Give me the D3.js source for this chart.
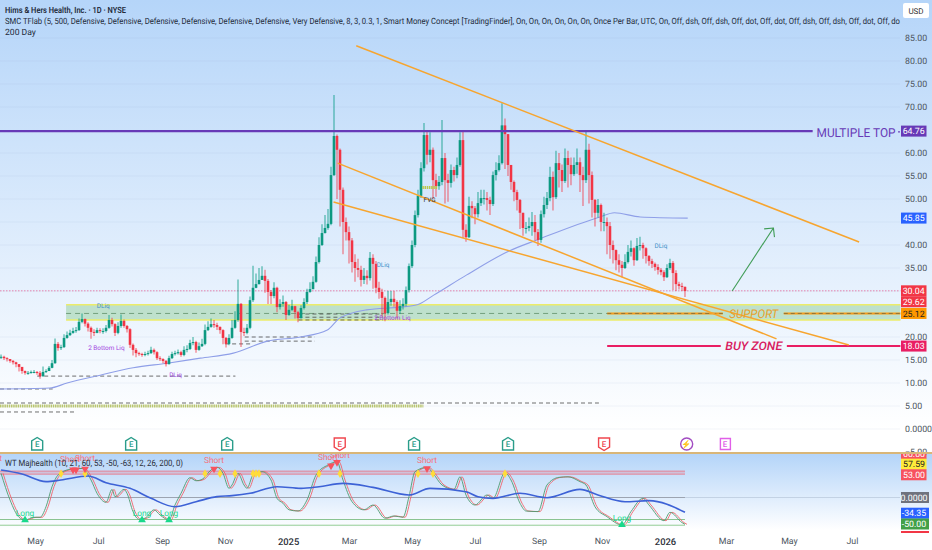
<!DOCTYPE html>
<html lang='en'>

<head>
   <meta charset='UTF-8'>
   <title>HIMS 1D</title>
   <script src="https://cdnjs.cloudflare.com/ajax/libs/d3/7.8.5/d3.min.js"></script>
   <style>
      body { margin: 0; background: #fff; overflow: hidden; }
      svg { display: block; }
      text { font-family: Roboto, 'Noto Sans', sans-serif; text-rendering: geometricPrecision; }
      .axis path, .axis line { display: none; }
      .axis text { font-size: 8.8px; fill: #4d5560; font-family: Roboto, 'Noto Sans', sans-serif; }
   </style>
</head>

<body>
   <svg id='chart' width='932' height='550'></svg>

   <script>
      'use strict'

      // one candle per ~2.9 calendar days
      const closes = [
         15.7, 15.4, 15.2, 14.8, 14.5, 14.1, 13.5, 12.6, 12.2, 12.2,
         12.4, 12.4, 12.2, 11.5, 12.4, 12.6, 13.3, 14.3, 18.5, 17.6,
         17.8, 19.8, 20.4, 20.9, 21.3, 21.5, 23.3, 23.9, 22.9, 22,
         21.1, 20.9, 21.5, 21.3, 21.3, 22, 23.7, 22.8, 20.9, 22.4,
         23.5, 22.4, 21.7, 18.3, 17.2, 16.5, 16.3, 16.1, 16.3, 16.5,
         17.2, 16.7, 15.4, 15.2, 14.8, 14.1, 15.4, 16.3, 16.5, 16.7,
         16.1, 17.2, 17.4, 18.7, 18.9, 17.2, 18, 18.5, 21.5, 22.2,
         22.8, 22.6, 22.2, 21.5, 19.8, 18.5, 19.8, 22, 23.7, 27.2,
         21.1, 20.9, 22, 28, 30.7, 31.5, 32.4, 33.3, 32.2, 29.8,
         28.9, 30.7, 26.5, 27.2, 27.6, 24.8, 25.9, 26.7, 25.4, 24.1,
         26.3, 27.6, 29.8, 30.4, 32, 36.3, 40, 42.6, 43.7, 44.6,
         55.2, 63.7, 60.7, 52, 45, 42.8, 41, 36.3, 35, 34.6,
         32.4, 33.3, 32.8, 37.2, 35.9, 30.7, 29.8, 28.5, 25.2, 27.6,
         28.3, 27.6, 25.7, 26.7, 27.2, 30.2, 35.4, 40, 46.5, 50.7,
         56.7, 63.9, 59.6, 60.7, 54.1, 52.8, 53.7, 58.9, 54.1, 53.5,
         56.3, 55.2, 57.4, 62.8, 43.3, 41.7, 48.5, 48, 46.7, 49.1,
         50.2, 50.2, 49.8, 48.9, 55.2, 56.3, 57.8, 66, 64.1, 57.4,
         53.7, 51.5, 49.8, 47, 43.7, 43.7, 44.1, 45, 42.8, 41.1,
         46.7, 48.7, 50.2, 54.8, 50.4, 57.8, 56.3, 53.9, 58.9, 57.4,
         55.4, 57.4, 58, 55.2, 54.1, 60.7, 55.2, 49.8, 47, 48.7,
         45, 45, 44.1, 40, 38.9, 36.7, 35.7, 35, 36.3, 38.5,
         39.3, 36.7, 39.8, 40, 39.3, 37.6, 36.5, 35.9, 35.2, 34.6,
         34.1, 33, 35, 36.1, 33.9, 31.5, 31.1, 30.9, 30
      ]

      const highs = [
         16.2, 15.9, 15.6, 15.2, 15, 14.6, 14, 13.4, 12.7, 12.6,
         12.7, 12.8, 12.6, 12.6, 13.6, 13, 13.7, 15, 19.7, 18.9,
         18.3, 20.6, 21.2, 21.6, 22, 22.2, 24, 25.1, 24, 23.2,
         22.3, 21.7, 22, 21.9, 21.9, 22.6, 24.8, 24.2, 23, 23.2,
         24.9, 23.8, 22.6, 21.9, 18.6, 17.6, 16.8, 16.6, 16.8, 17,
         17.9, 17.5, 16.9, 15.8, 15.4, 15, 15.9, 16.8, 17, 17.3,
         17, 18, 18.2, 19.4, 20, 19.2, 18.8, 19.6, 22.7, 23.4,
         24, 23.7, 23.1, 22.3, 21.7, 20, 20.6, 23.7, 25.6, 32.5,
         27.4, 22, 22.8, 28.8, 35.5, 33.8, 35, 35.4, 34.6, 32.6,
         30.2, 31.9, 30.9, 28.2, 29, 27.8, 27, 28.1, 26.8, 25.7,
         26.9, 28.4, 30.5, 31.9, 33.2, 37.5, 41.7, 44.5, 46.5, 47.8,
         57, 72.6, 64, 61, 52.5, 46, 44, 41.5, 38, 37,
         35.5, 35, 34.5, 38.5, 38, 36.5, 32, 30.5, 28.8, 30,
         30, 30, 28, 28, 28.4, 31, 36, 41, 47.5, 52,
         58, 66.5, 65, 64.5, 61.2, 55.5, 55, 67.2, 60, 55.5,
         57.5, 57, 59, 64.5, 65, 44.5, 50.5, 49.5, 48.5, 51.5,
         52, 52, 51.5, 50.5, 56, 58, 59.5, 70.8, 67.5, 64,
         57, 54, 52, 50, 47, 45, 46, 47.2, 46.5, 43.5,
         47.5, 50.5, 51.5, 57, 56, 60.5, 60, 57.5, 61, 60.5,
         59, 59, 61, 59, 57, 65, 62, 56, 50, 50,
         49, 47, 46, 45, 41, 39, 38, 36.5, 38, 40,
         41, 39.5, 41.5, 41.8, 40.5, 39.5, 37.8, 37, 36.2, 35.8,
         35, 34.5, 35.8, 37, 36.5, 34.5, 32, 31.8, 31
      ]

      const lows = [
         15.2, 15, 14.7, 14.4, 14, 13.4, 12.5, 12, 11.8, 11.8,
         12, 12.1, 11.8, 10.9, 11.3, 12.2, 12.6, 13.2, 14.2, 17,
         17.2, 17.6, 19.6, 20.2, 20.7, 20.9, 21.3, 23, 22.3, 21.2,
         19.6, 20.2, 20.8, 20.8, 20.7, 21, 21.8, 22.3, 20.2, 20.6,
         22, 22, 21, 17.6, 16, 15.6, 15.9, 15.7, 15.8, 16,
         16.3, 16.2, 15, 14.8, 14.3, 13.6, 14, 15.2, 16, 16.2,
         15.7, 15.8, 16.7, 17.2, 18.2, 16.6, 17, 17.8, 18.2, 21.3,
         22, 22, 21.5, 20.7, 18.4, 17.7, 18.2, 19.6, 21.8, 23.3,
         17.8, 20.2, 20.6, 21.7, 27.6, 30.6, 31.4, 32.5, 29.6, 27.2,
         27.2, 28.4, 25.4, 26, 26.6, 23.7, 24.6, 25.6, 24, 23.2,
         24, 26, 27.2, 29.6, 30.4, 31.8, 36, 39.8, 42.5, 43.3,
         44.3, 55, 50, 44, 38, 41, 36, 34, 32, 33,
         31, 31.5, 31.4, 32.3, 30.5, 29.5, 28.3, 24.4, 23.4, 24.9,
         26.8, 26.6, 24, 25, 26, 26.7, 29.7, 35, 39.5, 46,
         50.2, 56, 57.5, 58, 50, 50.5, 52, 53, 49, 49.4,
         52.5, 53.8, 54.5, 57, 41.5, 40.7, 41.5, 45.8, 44.5, 46,
         48.5, 48.8, 47.5, 46.5, 48.5, 54, 56, 57.5, 56.5, 55,
         52, 49.5, 47.5, 43.5, 42, 42.5, 43, 42, 41, 39.8,
         40.5, 46, 47.8, 49.5, 47.5, 50, 52.5, 51.5, 53.5, 52.5,
         53, 55, 55.5, 51.5, 48.5, 53.5, 49, 46, 44, 46,
         43, 43, 38, 37, 36, 34.5, 34, 33, 34.8, 36,
         37.5, 35.5, 36.5, 38.8, 37, 36, 35.5, 35, 34.4, 33.6,
         33.4, 32.2, 32.8, 34.6, 30.2, 30, 30.3, 30, 28.7
      ]

      const maDates = ['2024-03-28', '2024-05-15', '2024-06-01', '2024-07-03', '2024-08-04', '2024-09-06', '2024-10-08', '2024-11-09', '2024-12-12', '2025-01-13', '2025-02-08', '2025-02-20', '2025-03-18', '2025-04-20', '2025-05-06', '2025-05-22', '2025-06-23', '2025-08-03', '2025-08-30', '2025-10-30', '2025-11-13', '2025-12-08', '2026-01-23']
      const maValues = [8.7, 8.9, 10, 11.7, 13.3, 14.3, 15.4, 16.5, 19.1, 20, 21.5, 24.1, 25.9, 26.5, 27, 29.1, 33.5, 38.7, 41.1, 46.1, 47, 46.1, 45.85]

      const priceTicks = [85, 80, 75, 70, 60, 55, 50, 40, 35, 20, 15, 10, 5, 0, -5]
      const gridPrices = [85, 80, 75, 70, 60, 55, 50, 45, 40, 35, 30, 20, 15, 10, 5, 0]

      const monthDates = ['2024-05-01', '2024-07-01', '2024-09-01', '2024-11-01', '2025-01-01', '2025-03-01', '2025-05-01', '2025-07-01', '2025-09-01', '2025-11-01', '2026-01-01', '2026-03-01', '2026-05-01', '2026-07-01']
      const monthLabels = ['May', 'Jul', 'Sep', 'Nov', '2025', 'Mar', 'May', 'Jul', 'Sep', 'Nov', '2026', 'Mar', 'May', 'Jul']

      // trend lines: start date, start price, end date, end price
      const trendLines = [
         ['2025-03-08', 83.3, '2026-07-08', 40.65],
         ['2025-02-18', 57.8, '2026-04-19', 19.6],
         ['2025-02-14', 49.35, '2026-06-28', 18.26]
      ]

      const arrowShaft = ['2026-03-07', 30, '2026-04-16', 43.7]
      const arrowHead = [['2026-04-07', 43.5], ['2026-04-16', 43.7], ['2026-04-17', 41.7]]

      const multipleTop = ['2024-03-28', '2026-05-24', 64.76]
      const zone = ['2024-05-31', '2026-08-17', 27, 23.7]
      const zoneMid = ['2024-05-31', '2025-11-06', 25.12]
      const supportParts = [['2025-11-06', '2026-02-26', 25.12], ['2026-04-26', '2026-08-17', 25.12]]
      const buyParts = [['2025-11-06', '2026-02-24', 18.03], ['2026-04-29', '2026-08-17', 18.03]]
      const lastPriceLine = ['2024-03-28', '2026-08-17', 30.04]

      const liqLines = [
         ['2024-05-03', '2024-11-11', 11.5],
         ['2024-03-28', '2024-05-18', 8.7],
         ['2024-03-28', '2025-10-29', 5.65],
         ['2024-03-28', '2024-06-09', 3.7],
         ['2024-11-01', '2024-11-28', 18.5],
         ['2024-11-20', '2025-01-27', 20],
         ['2024-11-20', '2025-01-27', 19.1],
         ['2025-01-11', '2025-04-03', 25],
         ['2025-01-11', '2025-04-03', 24.3],
         ['2025-01-11', '2025-04-03', 23.7]
      ]
      const fvgBand = ['2024-03-28', '2025-05-12', 5]

      const notes = [
         ['DLiq', '2024-07-06', 26.9, '#3f8fc8'],
         ['DLiq', '2025-04-03', 35.7, '#3f8fc8'],
         ['DLiq', '2025-12-28', 39.9, '#3f8fc8'],
         ['DLiq', '2024-09-14', 11.7, '#a03fe0'],
         ['2 Bottom Liq', '2024-07-09', 17.6, '#a03fe0'],
         ['2 Bottom Liq', '2025-04-12', 24.1, '#a03fe0'],
         ['FVG', '2025-05-18', 49.9, '#333333']
      ]

      const earnings = [
         ['2024-05-03', 'up'], ['2024-08-02', 'up'], ['2024-11-03', 'up'], ['2025-02-20', 'down'],
         ['2025-05-03', 'up'], ['2025-08-02', 'up'], ['2025-11-03', 'down'], ['2026-01-22', 'bolt'], ['2026-02-28', 'next']
      ]

      const priceTags = [
         [64.76, '#673ab7', '#fff', 0],
         [45.85, '#2962ff', '#fff', 0],
         [30.04, '#f23645', '#fff', 0],
         [29.62, '#f23645', '#fff', 9],
         [25.12, '#ff9800', '#222', 0],
         [18.03, '#e91e63', '#fff', 0]
      ]

      // WT oscillator: positions in candle numbers
      const wtBars = [0, 3, 6, 8, 11, 13, 15, 17, 19, 23, 27, 30, 32, 35, 37, 38, 41, 42, 44, 46, 48, 51, 53, 56, 58, 60, 63, 65, 67, 70, 72, 74, 76, 77, 79, 81, 82, 84, 87, 90, 92, 94, 96, 99, 102, 105, 109, 112, 114, 117, 121, 124, 128, 131, 134, 136, 138, 142, 144, 147, 151, 153, 155, 158, 162, 164, 168, 170, 173, 175, 179, 182, 186, 189, 193, 195, 198, 202, 207, 210, 214, 216, 221, 223, 227, 228]
      const wtValues = [55, -5.7, -45, -51, -45, -45, -21, 24.6, 51, 64, 66, 39.8, 9.5, -11, 18.5, 1.9, 18.5, 9.5, -32, -49.6, -47, -28, -39.8, -51, -17, 9.5, 45, 38, 41, 62.5, 68.6, 55, 20.8, 28.4, 55, 28.4, 20.8, 51, 58.7, 39.8, -1.9, -13, -28, -30.7, -5.7, 51, 73.9, 81.4, 39.8, -9.5, -28, -17, -47, -42, -45, 1.9, 58.7, 68.6, 55, 28.4, 18.5, 47, 5.7, -17, 5.7, -1.9, 56.4, 39.8, -13, -30.7, -32, 28.4, 45.8, 47, 36, 28.4, -21, -43.6, -62.5, -32, -1.9, -17, -52.7, -33.7, -57, -61]
      const slowBars = [0, 7, 15, 20, 29, 35, 43, 50, 58, 65, 72, 77, 83, 92, 100, 106, 114, 124, 136, 143, 155, 159, 164, 173, 182, 193, 199, 208, 216, 228]
      const slowValues = [62.5, 53.4, 36, 39.8, 48.8, 33.7, 20.8, -1.9, -21, -9.5, 1.9, 4.2, 9.5, 24.6, 20.8, 24.6, 32, 23, 5.7, 20.8, 13, 1.9, -1.9, 9.5, -0.4, 18.5, 5.7, -9.5, -7.2, -33.7]

      const wtLevels = [60, 53, 0, -50, -63]
      const yellowBars = [20, 28, 68, 73, 78, 84, 85, 86, 106, 113, 139, 144, 168]
      const shortBars = [24, 25, 28, 71, 110, 112, 142]
      const shortValues = [63, 63, 65, 65, 72, 80, 66]
      const shortLabelBars = [-3, 23, 28, 71, 109, 113, 142]
      const shortLabelValues = [90, 88, 90, 86, 91, 97, 86]
      const longBars = [8, 47, 56, 207]
      const longValues = [-51, -51, -51, -62]

      const wtTags = [
         ['60.00', 60, '#f7525f', '#fff', -17.5],
         ['57.59', 57.59, '#ffeb3b', '#222', -8],
         ['53.00', 53, '#f7525f', '#fff', 0.6],
         ['0.0000', 0, '#6f737e', '#fff', 0],
         ['-34.35', -34.35, '#2962ff', '#fff', 0.6],
         ['-50.00', -50, '#43a047', '#fff', 4.5]
      ]

      const svg = d3.select('#chart')
      const defs = svg.append('defs')

      function addGradient(id, top, bottom) {
         const g = defs.append('linearGradient').attr('id', id)
            .attr('gradientUnits', 'userSpaceOnUse')
            .attr('x1', 0).attr('x2', 0).attr('y1', top).attr('y2', bottom)
         g.append('stop').attr('offset', 0).attr('stop-color', '#b5d5f9')
         g.append('stop').attr('offset', 1).attr('stop-color', '#ffffff')
      }
      addGradient('mainBg', 0, 430)
      addGradient('wtBg', 455, 530)

      defs.append('clipPath').attr('id', 'wtClip').append('rect')
         .attr('x', 0).attr('y', 454).attr('width', 932).attr('height', 79)

      defs.append('filter').attr('id', 'soft').append('feGaussianBlur').attr('stdDeviation', 0.35)

      svg.append('rect').attr('width', 932).attr('height', 430).attr('fill', 'url(#mainBg)')
      svg.append('rect').attr('y', 454).attr('width', 932).attr('height', 76).attr('fill', 'url(#wtBg)')

      const x = d3.scaleTime([new Date('2024-03-28'), new Date('2026-01-01')], [0, 665])
      const y = d3.scaleLinear([0, 85], [429, 38])
      const yWt = d3.scaleLinear([0, -50], [497.5, 519.5])

      const firstBar = +new Date('2024-03-29')
      const barStep = 2.905 * 864e5
      const barDate = i => new Date(firstBar + i * barStep)
      const barX = i => x(barDate(i))
      const day = s => new Date(s)

      const hline = (g, d) => g.append('line')
         .attr('x1', x(day(d[0]))).attr('x2', x(day(d[1])))
         .attr('y1', y(d[2])).attr('y2', y(d[2]))

      // grid
      svg.append('g').selectAll('line').data(gridPrices).enter().append('line')
         .attr('x1', 0).attr('x2', 900)
         .attr('y1', d => y(d)).attr('y2', d => y(d))
         .attr('stroke', '#8ea6c4').attr('stroke-opacity', 0.1).attr('stroke-width', 1)

      // support zone
      svg.append('rect')
         .attr('x', x(day(zone[0]))).attr('width', x(day(zone[1])) - x(day(zone[0])))
         .attr('y', y(zone[2])).attr('height', y(zone[3]) - y(zone[2]))
         .attr('fill', '#4caf50').attr('fill-opacity', 0.28)
      const zoneEdges = svg.append('g').attr('stroke', '#ecec6a').attr('stroke-width', 1.4)
      hline(zoneEdges, [zone[0], zone[1], zone[2]])
      hline(zoneEdges, [zone[0], zone[1], zone[3]])
      hline(svg.append('g'), zoneMid).attr('stroke', '#5f8f6a').attr('stroke-width', 0.8).attr('stroke-dasharray', '5 4')

      // last price dotted line
      hline(svg.append('g'), lastPriceLine).attr('stroke', '#e56a9b').attr('stroke-width', 0.8).attr('stroke-dasharray', '1.5 1.5')

      // liquidity lines
      const liq = svg.append('g')
      liqLines.forEach(d => hline(liq, d).attr('stroke', '#4a4a4a').attr('stroke-width', 0.8).attr('stroke-dasharray', '4 3'))
      hline(svg.append('g'), fvgBand).attr('stroke', '#a9b84a').attr('stroke-width', 3).attr('stroke-dasharray', '1.5 0.7').attr('stroke-opacity', 0.8)

      // 200 day average
      svg.append('path')
         .attr('d', d3.line().x((d, i) => x(day(maDates[i]))).y(d => y(d)).curve(d3.curveMonotoneX)(maValues))
         .attr('fill', 'none').attr('stroke', '#8f9fe8').attr('stroke-width', 1.1)

      // candles
      const candles = closes.map((c, i) => {
         const open = i ? closes[i - 1] : c
         return { i, open, close: c, high: Math.max(highs[i], open, c), low: Math.min(lows[i], open, c) }
      })
      const candleColor = d => d.close >= d.open ? '#089981' : '#f23645'
      const candleG = svg.append('g').attr('filter', 'url(#soft)')
      candleG.selectAll('.wick').data(candles).enter().append('line')
         .attr('x1', d => barX(d.i)).attr('x2', d => barX(d.i))
         .attr('y1', d => y(d.high)).attr('y2', d => y(d.low))
         .attr('stroke', candleColor).attr('stroke-opacity', 0.5).attr('stroke-width', 1.6)
      candleG.selectAll('.body').data(candles).enter().append('rect')
         .attr('x', d => barX(d.i) - 1.3).attr('width', 2.6)
         .attr('y', d => y(Math.max(d.open, d.close)))
         .attr('height', d => Math.max(1, Math.abs(y(d.open) - y(d.close))))
         .attr('fill', candleColor)

      // FVG box above the label
      hline(svg.append('g'), ['2025-05-11', '2025-05-26', 52.5]).attr('stroke', '#b9c94a').attr('stroke-width', 3).attr('stroke-dasharray', '1.5 0.7')

      // drawn levels
      hline(svg.append('g'), multipleTop).attr('stroke', '#673ab7').attr('stroke-width', 2.4)
      supportParts.forEach(d => {
         hline(svg, d).attr('stroke', '#f59c1a').attr('stroke-width', 2)
         hline(svg, d).attr('stroke', '#7a6a3a').attr('stroke-width', 0.8).attr('stroke-dasharray', '4 3')
      })
      buyParts.forEach(d => hline(svg, d).attr('stroke', '#e91e63').attr('stroke-width', 2))

      svg.append('g').selectAll('line').data(trendLines).enter().append('line')
         .attr('x1', d => x(day(d[0]))).attr('y1', d => y(d[1]))
         .attr('x2', d => x(day(d[2]))).attr('y2', d => y(d[3]))
         .attr('stroke', '#f7a52f').attr('stroke-width', 1.5)

      const arrowG = svg.append('g').attr('fill', 'none').attr('stroke', '#3f9c55').attr('stroke-width', 1.1)
      arrowG.append('line')
         .attr('x1', x(day(arrowShaft[0]))).attr('y1', y(arrowShaft[1]))
         .attr('x2', x(day(arrowShaft[2]))).attr('y2', y(arrowShaft[3]))
      arrowG.append('path')
         .attr('d', d3.line().x(d => x(day(d[0]))).y(d => y(d[1]))(arrowHead))

      // big labels
      const bigLabel = (txt, date, price, size, color, width) => svg.append('text')
         .attr('x', x(day(date))).attr('y', y(price)).attr('dy', '0.35em')
         .attr('text-anchor', 'middle').attr('font-size', size).attr('fill', color)
         .attr('textLength', width).attr('lengthAdjust', 'spacingAndGlyphs').text(txt)
      bigLabel('MULTIPLE TOP', '2026-07-05', 64.4, 12.4, '#673ab7', 79)
      svg.append('circle').attr('cx', 899).attr('cy', y(64.6)).attr('r', 0.9).attr('fill', '#673ab7')
      bigLabel('SUPPORT', '2026-03-28', 25.1, 12, '#e8a02a', 49).attr('font-style', 'italic')
      bigLabel('BUY ZONE', '2026-03-28', 18, 11.8, '#d81b60', 57).attr('font-style', 'italic').attr('font-weight', 500)

      svg.append('g').selectAll('text').data(notes).enter().append('text')
         .attr('x', d => x(day(d[1]))).attr('y', d => y(d[2])).attr('dy', '0.35em')
         .attr('text-anchor', 'middle').attr('font-size', 6.4).attr('fill', d => d[3])
         .text(d => d[0])

      // earnings icons
      const icons = svg.append('g').selectAll('g').data(earnings).enter().append('g')
         .attr('transform', d => `translate(${x(day(d[0]))},444)`)
      const iconColor = { up: '#2a9d8a', down: '#f0474f', bolt: '#a24cc2', next: '#e05fe8' }
      icons.append('path')
         .attr('d', d => {
            if (d[1] === 'up') return 'M0,-6.5L5.5,-3V6H-5.5V-3Z'
            if (d[1] === 'down') return 'M-5.5,-6H5.5V3L0,6.5L-5.5,3Z'
            if (d[1] === 'next') return 'M-4.5,-5.5H5.5V5.5H-4.5Z'
            return d3.arc()({ innerRadius: 0, outerRadius: 6, startAngle: 0, endAngle: 2 * Math.PI })
         })
         .attr('fill', '#ffffff').attr('stroke', d => iconColor[d[1]]).attr('stroke-width', 1.4)
      icons.append('text')
         .attr('text-anchor', 'middle').attr('dy', '0.36em').attr('font-size', 8).attr('font-weight', 500)
         .attr('fill', d => iconColor[d[1]])
         .text(d => d[1] === 'bolt' ? '⚡' : 'E')

      // right axis and time axis
      svg.append('g').attr('class', 'axis').attr('transform', 'translate(905,0)')
         .call(d3.axisRight(y).tickValues(priceTicks).tickSize(0).tickPadding(0)
            .tickFormat(d => d === 0 ? '0.0000' : d3.format('.2f')(d)))
      const timeAxis = svg.append('g').attr('class', 'axis').attr('transform', 'translate(0,538)')
         .call(d3.axisBottom(x).tickValues(monthDates.map(day)).tickSize(0).tickPadding(0)
            .tickFormat((d, i) => monthLabels[i]))
      timeAxis.selectAll('text').filter((d, i) => monthLabels[i].length === 4)
         .style('fill', '#2b2f38').style('font-weight', 500).style('font-size', '9.4px')

      // price tags
      const tags = svg.append('g').selectAll('g').data(priceTags).enter().append('g')
         .attr('transform', d => `translate(901,${y(d[0]) + d[3]})`)
      tags.append('rect').attr('y', -5.5).attr('width', 25.5).attr('height', 11).attr('fill', d => d[1])
      tags.append('text').attr('x', 12.7).attr('dy', '0.35em').attr('text-anchor', 'middle')
         .attr('font-size', 8.8).attr('fill', d => d[2]).text(d => d[0].toFixed(2))

      const usd = svg.append('g').attr('transform', 'translate(903,3)')
      usd.append('rect').attr('width', 26).attr('height', 15).attr('rx', 2).attr('fill', '#fff')
      usd.append('text').attr('x', 13).attr('y', 8).attr('dy', '0.35em').attr('text-anchor', 'middle')
         .attr('font-size', 8).attr('fill', '#333').text('USD')

      // WT pane
      const wt = svg.append('g').attr('clip-path', 'url(#wtClip)')
      const levelColor = ['#f7525f', '#f7525f', '#6f737e', '#43a047', '#4caf50']
      wt.selectAll('line').data(wtLevels).enter().append('line')
         .attr('x1', 0).attr('x2', x(barDate(228)))
         .attr('y1', d => yWt(d)).attr('y2', d => yWt(d))
         .attr('stroke', (d, i) => levelColor[i]).attr('stroke-opacity', 0.6).attr('stroke-width', 1)

      wt.append('rect')
         .attr('x', 0).attr('width', x(barDate(228)))
         .attr('y', yWt(60)).attr('height', yWt(53) - yWt(60))
         .attr('fill', '#f7525f').attr('fill-opacity', 0.2)
      wt.append('line').attr('x1', x(barDate(228))).attr('x2', 900)
         .attr('y1', yWt(0)).attr('y2', yWt(0)).attr('stroke', '#a8b8cc').attr('stroke-opacity', 0.5)

      const wtLine = d3.line().x((d, i) => barX(wtBars[i])).y(d => yWt(d)).curve(d3.curveMonotoneX)
      wt.append('path').attr('d', wtLine(wtValues))
         .attr('fill', 'none').attr('stroke', '#f0626a').attr('stroke-width', 0.9)
         .attr('transform', 'translate(2,0)')
      wt.append('path').attr('d', wtLine(wtValues))
         .attr('fill', 'none').attr('stroke', '#4f9a70').attr('stroke-width', 0.9)

      wt.append('path')
         .attr('d', d3.line().x((d, i) => barX(slowBars[i])).y(d => yWt(d)).curve(d3.curveMonotoneX)(slowValues))
         .attr('fill', 'none').attr('stroke', '#3d62d6').attr('stroke-width', 1.6)

      const symbolAt = (bars, values, type, size, color) => wt.append('g').selectAll('path').data(bars).enter().append('path')
         .attr('d', d3.symbol().type(type).size(size))
         .attr('transform', (d, i) => `translate(${barX(d)},${yWt(values[i])})`)
         .attr('fill', color)
      symbolAt(yellowBars, yellowBars.map(() => 54), d3.symbolDiamond, 22, '#ffdc3a')
      symbolAt(shortBars, shortValues, d3.symbolTriangle, 26, '#f7525f')
         .attr('transform', (d, i) => `translate(${barX(d)},${yWt(shortValues[i])}) rotate(180)`)
      symbolAt(longBars, longValues, d3.symbolTriangle, 26, '#19d98b')

      wt.append('g').selectAll('text').data(shortLabelBars).enter().append('text')
         .attr('x', d => barX(d)).attr('y', (d, i) => yWt(shortLabelValues[i])).attr('dy', '0.35em')
         .attr('text-anchor', 'middle').attr('font-size', 8.4).attr('fill', '#f7707a').text('Short')
      wt.append('g').selectAll('text').data(longBars).enter().append('text')
         .attr('x', d => barX(d)).attr('y', (d, i) => yWt(longValues[i] + 16)).attr('dy', '0.35em')
         .attr('text-anchor', 'middle').attr('font-size', 8.4).attr('fill', '#22d892').text('Long')

      // pane separator
      svg.append('rect').attr('y', 452).attr('width', 932).attr('height', 2).attr('fill', '#d9b678')

      svg.append('text').attr('x', 5).attr('y', 463).attr('dy', '0.35em')
         .attr('font-size', 8.8).attr('fill', '#2a2e39')
         .attr('textLength', 178).attr('lengthAdjust', 'spacingAndGlyphs')
         .text('WT Majhealth (10, 21, 60, 53, -50, -63, 12, 26, 200, 0)')

      const wtTagG = svg.append('g').attr('clip-path', 'url(#wtClip)').selectAll('g').data(wtTags).enter().append('g')
         .attr('transform', d => `translate(901,${yWt(d[1]) + d[4]})`)
      wtTagG.append('rect').attr('y', -5.5).attr('width', d => d[1] === 0 || d[1] === -34.35 || d[1] === -50 ? 28 : 25.5).attr('height', 11).attr('fill', d => d[2])
      wtTagG.append('text').attr('x', 13).attr('dy', '0.35em').attr('text-anchor', 'middle')
         .attr('font-size', 8.8).attr('fill', d => d[3]).text(d => d[0])
      svg.append('rect').attr('x', 901).attr('y', 531).attr('width', 28).attr('height', 2).attr('fill', '#f23645')

      // header text
      const header = svg.append('g').attr('fill', '#232b3a')
      header.append('text').attr('x', 5).attr('y', 13).attr('font-size', 8.6).attr('font-weight', 600)
         .attr('textLength', 121).attr('lengthAdjust', 'spacingAndGlyphs')
         .text('Hims & Hers Health, Inc. · 1D · NYSE')
      header.append('text').attr('x', 5).attr('y', 24).attr('font-size', 8.6)
         .attr('textLength', 895).attr('lengthAdjust', 'spacingAndGlyphs')
         .text('SMC TFlab (5, 500, Defensive, Defensive, Defensive, Defensive, Defensive, Defensive, Very Defensive, 8, 3, 0.3, 1, Smart Money Concept [TradingFinder], On, On, On, On, On, On, Once Per Bar, UTC, On, Off, dsh, Off, dsh, Off, dot, Off, dot, Off, dsh, Off, dsh, Off, dot, Off, do')
      header.append('text').attr('x', 5).attr('y', 35).attr('font-size', 8.6).text('200 Day')
   </script>
</body>

</html>
